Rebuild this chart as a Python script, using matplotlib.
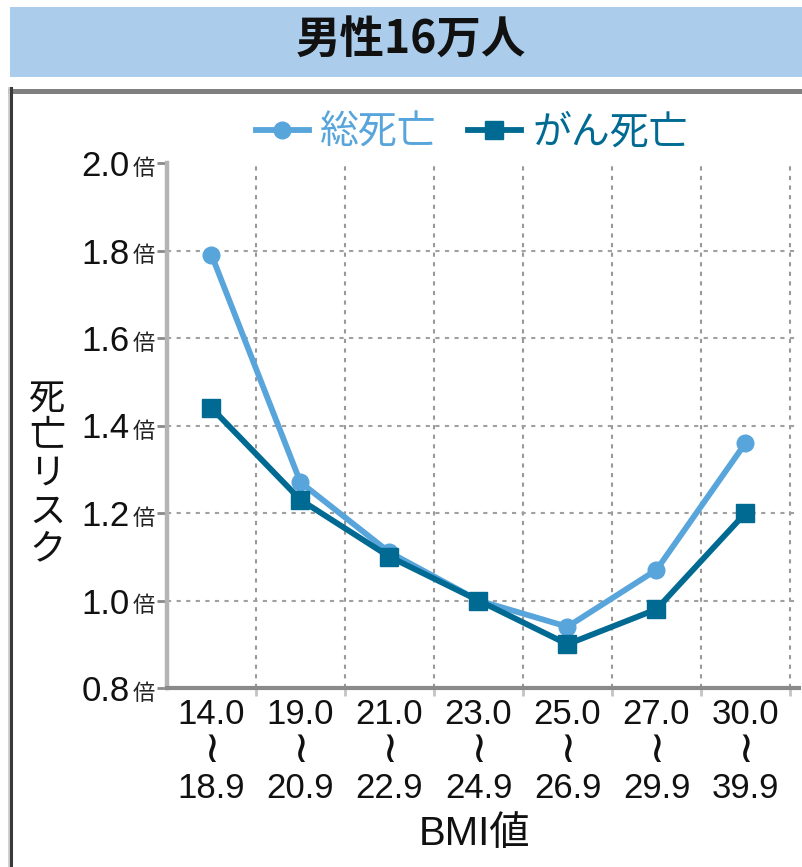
import matplotlib
matplotlib.use('Agg')
import matplotlib.pyplot as plt
from matplotlib.lines import Line2D
from matplotlib.patches import Rectangle
import matplotlib.transforms as mtransforms

# ---- data ----
bmi_low = ['14.0', '19.0', '21.0', '23.0', '25.0', '27.0', '30.0']
bmi_high = ['18.9', '20.9', '22.9', '24.9', '26.9', '29.9', '39.9']
range_sep = '≀'
total_death = [1.79, 1.27, 1.11, 1.00, 0.94, 1.07, 1.36]
cancer_death = [1.44, 1.23, 1.10, 1.00, 0.90, 0.98, 1.20]
y_ticks = [0.8, 1.0, 1.2, 1.4, 1.6, 1.8, 2.0]
series_names = ['総死亡', 'がん死亡']
title_text = '男性16万人'
ylabel_text = '死亡リスク'
xlabel_text = 'BMI値'
y_unit = '倍'

LIGHT = '#58a5dc'
DARK = '#006a93'
JP = 'Noto Sans CJK JP'
NUM = ['Liberation Sans', 'DejaVu Sans']

W, H = 803, 867
fig = plt.figure(figsize=(W / 100, H / 100), dpi=100)
fig.patch.set_facecolor('white')

def fx(x):
    return x / W

def fy(y):
    return 1 - y / H

# title band
fig.patches.append(Rectangle((fx(10), fy(77)), fx(793), 70 / H, transform=fig.transFigure,
                             facecolor='#abcdeb', edgecolor='none', zorder=0))
fig.text(fx(411), fy(41), title_text, ha='center', va='center', fontsize=32,
         family=JP, weight='bold', color='#111111')

# frame lines
fig.lines.append(Line2D([fx(10), 1], [fy(90.5), fy(90.5)], transform=fig.transFigure,
                        color='#7f7f7f', lw=3.6))
fig.lines.append(Line2D([fx(8.5), fx(8.5)], [fy(88), 0], transform=fig.transFigure,
                        color='#cccccc', lw=2.0))
fig.lines.append(Line2D([fx(11.5), fx(11.5)], [fy(88), 0], transform=fig.transFigure,
                        color='#3a3a3a', lw=2.2))

# axes
step = 89.0
ax_w = 7.1 * step
ax_h = 525.0
ax = fig.add_axes([fx(167), fy(688), ax_w / W, ax_h / H])
x = list(range(len(bmi_low)))
ax.plot(x, total_death, color=LIGHT, lw=4.2, marker='o', ms=12, label=series_names[0], zorder=3)
ax.plot(x, cancer_death, color=DARK, lw=4.2, marker='s', ms=13, label=series_names[1], zorder=4)

ax.set_xlim(-0.5, 6.6)
ax.set_ylim(0.8, 2.0)
for s in ['top', 'right']:
    ax.spines[s].set_visible(False)
ax.spines['left'].set_color('#b4b4b4')
ax.spines['left'].set_linewidth(3.2)
ax.spines['bottom'].set_color('#8a8a8a')
ax.spines['bottom'].set_linewidth(3.0)

# x ticks: first row as tick labels, separator and upper bound below
ax.set_xticks(x)
ax.set_xticklabels(bmi_low, fontsize=25, family=NUM, color='#111111')
ax.tick_params(axis='x', which='major', length=0, pad=7.5)
xtr = ax.get_xaxis_transform()
for xi, hi in zip(x, bmi_high):
    ax.text(xi, -61 / ax_h, range_sep, transform=xtr, ha='center', va='center',
            fontsize=32, family=['DejaVu Sans'], color='#111111')
    ax.text(xi, -97 / ax_h, hi, transform=xtr, ha='center', va='center_baseline',
            fontsize=25, family=NUM, color='#111111')
ax.set_xticks([i + 0.5 for i in x], minor=True)
ax.tick_params(axis='x', which='minor', length=6, width=2, color='#c4c4c4', direction='out')
ax.grid(which='minor', axis='x', color='#999999', lw=1.5, linestyle=(0, (2, 2.6)))

# y ticks
ax.set_yticks(y_ticks)
ax.set_yticklabels([f'{v:.1f}' for v in y_ticks], fontsize=25, family=NUM, color='#111111')
ax.tick_params(axis='y', length=7, width=2, color='#8a8a8a', pad=20)
ax.grid(which='major', axis='y', color='#a0a0a0', lw=1.5, linestyle=(0, (2, 2.6)))
for gl, v in zip(ax.yaxis.get_gridlines(), y_ticks):
    if v in (0.8, 2.0):
        gl.set_visible(False)
unit_tr = mtransforms.offset_copy(ax.get_yaxis_transform(), fig=fig, x=0, y=-12, units='dots')
for v in y_ticks:
    ax.text(-23 / ax_w, v, y_unit, transform=unit_tr,
            ha='center', va='baseline', fontsize=16, family=JP, color='#222222')

# y label (stacked vertical characters)
for i, ch in enumerate(ylabel_text):
    fig.text(fx(47), fy(399 + i * 37.5), ch, ha='center', va='center', fontsize=26,
             family=JP, color='#111111')

# x label
fig.text(fx(475), fy(834), xlabel_text, ha='center', va='center', fontsize=29,
         family=['Liberation Sans', JP], color='#111111')

# legend
leg = ax.legend(loc='center', bbox_to_anchor=(fx(472), fy(133)), bbox_transform=fig.transFigure,
                ncol=2, frameon=False, prop={'family': JP, 'size': 28},
                handlelength=1.35, handletextpad=0.3, columnspacing=0.8,
                borderpad=0, borderaxespad=0)
for t, c in zip(leg.get_texts(), [LIGHT, DARK]):
    t.set_color(c)

fig.savefig('out.png', dpi=100)
